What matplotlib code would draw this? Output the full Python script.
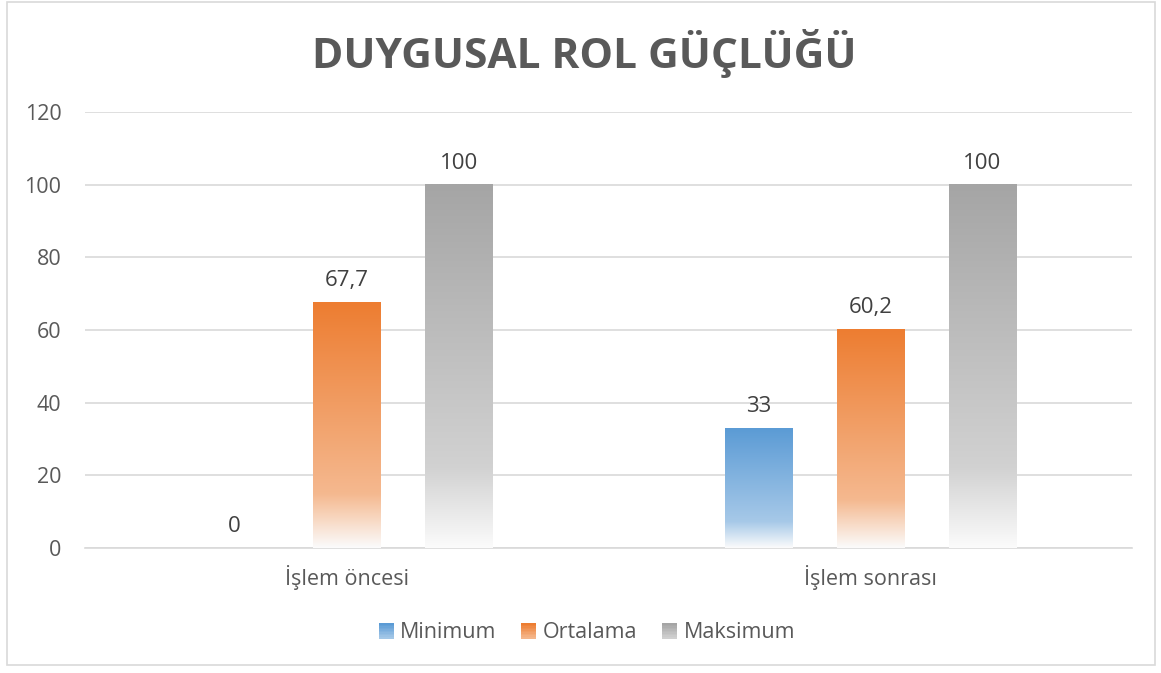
import numpy as np
import matplotlib
matplotlib.use("Agg")
import matplotlib.pyplot as plt
from matplotlib.colors import LinearSegmentedColormap, to_rgb
from matplotlib.patches import Rectangle
from matplotlib.legend_handler import HandlerBase

categories = ["İşlem öncesi", "İşlem sonrası"]
series_names = ["Minimum", "Ortalama", "Maksimum"]
minimum = [0, 33]
ortalama = [67.7, 60.2]
maksimum = [100, 100]
title = "DUYGUSAL ROL GÜÇLÜĞÜ"
yticks = [0, 20, 40, 60, 80, 100, 120]

series_values = [minimum, ortalama, maksimum]
top_colors = ["#5B9BD5", "#ED7D31", "#A5A5A5"]
mid_colors = ["#9DC3E6", "#F4B183", "#CDCDCD"]

plt.rcParams['font.family'] = ['Open Sans', 'DejaVu Sans']
FS = 15.5

fig = plt.figure(figsize=(11.61, 6.73), dpi=100)
ax = fig.add_axes([85/1161, 1-548/673, (1132-85)/1161, (548-112)/673])

# outer border
fig.patches.append(Rectangle((7/1161, 1-665/673), (1155-7)/1161, (665-2)/673,
                             transform=fig.transFigure, fill=False,
                             edgecolor="#D9D9D9", linewidth=1.2))

def make_cmap(top, mid):
    t = np.array(to_rgb(top)); m = np.array(to_rgb(mid))
    w = np.array([1, 1, 1]) * 0.985
    return LinearSegmentedColormap.from_list("g", [(0, w), (0.22, m * 0.9 + 0.1 * w), (1, t)])

x = np.arange(len(categories))
width = 0.128
offset = 0.214
grad = np.linspace(0, 1, 256).reshape(-1, 1)

ax.set_xlim(-0.5, 1.5)
ax.set_ylim(0, 120)
for i, (vals, name) in enumerate(zip(series_values, series_names)):
    pos = x + (i - 1) * offset
    bars = ax.bar(pos, vals, width, color="none", edgecolor="none", label=name, zorder=3)
    cmap = make_cmap(top_colors[i], mid_colors[i])
    for b, v in zip(bars, vals):
        x0 = b.get_x(); w = b.get_width(); h = b.get_height()
        if h > 0:
            ax.imshow(grad, cmap=cmap, extent=(x0, x0 + w, 0, h), origin="lower",
                      aspect="auto", zorder=3, interpolation="bilinear")
        lbl = f"{v:g}".replace(".", ",")
        ax.annotate(lbl, (x0 + w / 2, h), xytext=(0, 8), textcoords="offset points",
                    ha="center", va="bottom", fontsize=16, color="#404040")
ax.set_xlim(-0.5, 1.5)
ax.set_ylim(0, 120)

ax.set_yticks(yticks)
ax.set_yticklabels([str(t) for t in yticks], fontsize=FS, color="#595959")
ax.set_xticks(x)
ax.set_xticklabels(categories, fontsize=FS, color="#595959")
ax.tick_params(axis="both", length=0)
ax.tick_params(axis="y", pad=17)
ax.tick_params(axis="x", pad=12)
ax.grid(axis="y", color="#D9D9D9", linewidth=1.2, zorder=0)
ax.set_axisbelow(True)
for s in ["top", "right", "left"]:
    ax.spines[s].set_visible(False)
ax.spines["bottom"].set_color("#D9D9D9")
ax.spines["bottom"].set_linewidth(1.2)

fig.text(584/1161, 1 - 53/673, title, ha="center", va="center", fontsize=30.5,
         fontweight="bold", color="#595959")

class GradHandler(HandlerBase):
    def __init__(self, top, mid):
        super().__init__(); self.top = top; self.mid = mid
    def create_artists(self, legend, orig_handle, xdescent, ydescent, width, height, fontsize, trans):
        arts = []
        n = 10
        cmap = make_cmap(self.top, self.mid)
        s = height
        x0 = xdescent * -1 + (width - s)
        for k in range(n):
            r = Rectangle((x0, -ydescent + s * k / n), s, s / n + 0.2,
                          facecolor=cmap(0.25 + 0.75 * k / (n - 1)), edgecolor="none", transform=trans)
            arts.append(r)
        return arts

handles = [Rectangle((0, 0), 1, 1) for _ in series_names]
hmap = {h: GradHandler(top_colors[i], mid_colors[i]) for i, h in enumerate(handles)}
fig.legend(handles, series_names, handler_map=hmap, loc="center",
           bbox_to_anchor=(587/1161, 1 - 633/673), ncol=3, frameon=False,
           fontsize=FS, labelcolor="#595959", handlelength=0.7, handleheight=0.7,
           handletextpad=0.3, columnspacing=1.15)

fig.savefig("out.png", dpi=100)
